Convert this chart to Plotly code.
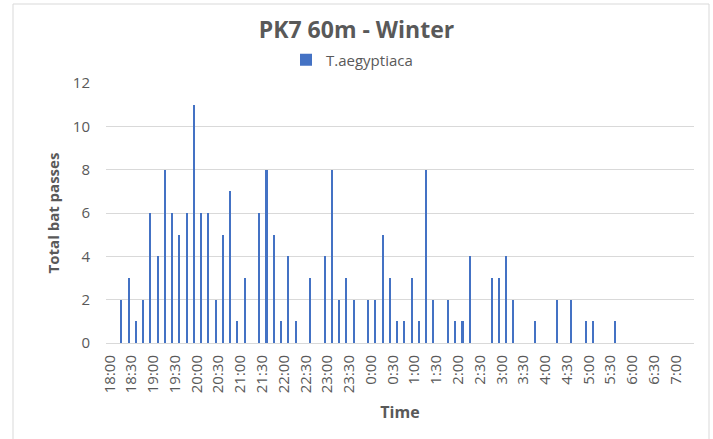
import plotly.graph_objects as go

# 10-minute bins from 18:00 to 7:20
times = []
h, m = 18, 0
for _ in range(81):
    times.append(f"{h}:{m:02d}")
    m += 10
    if m == 60:
        m = 0
        h = (h + 1) % 24

passes = [0, 0, 2, 3, 1, 2, 6, 4, 8, 6, 5, 6, 11, 6, 6, 2, 5, 7, 1, 3,
          0, 6, 8, 5, 1, 4, 1, 0, 3, 0, 4, 8, 2, 3, 2, 0, 2, 2, 5, 3,
          1, 1, 3, 1, 8, 2, 0, 2, 1, 1, 4, 0, 0, 3, 3, 4, 2, 0, 0, 1,
          0, 0, 2, 0, 2, 0, 1, 1, 0, 0, 1, 0, 0, 0, 0, 0, 0, 0, 0, 0, 0]

tick_labels = times[:79:3]

series_name = "T.aegyptiaca"
title = "PK7 60m - Winter"

GRAY = "#595959"
GRID = "#d9d9d9"
FONT = "Open Sans, Liberation Sans, sans-serif"

fig = go.Figure()
fig.add_trace(go.Bar(
    x=times, y=passes, name=series_name,
    marker=dict(color="#4472C4", line=dict(width=0)),
    width=0.28, offset=-0.53,
))

fig.update_layout(
    width=713, height=439,
    margin=dict(l=106, r=19, t=83, b=96, autoexpand=False),
    paper_bgcolor="white", plot_bgcolor="white",
    font=dict(family=FONT, color=GRAY, size=15),
    title=dict(text=f"<b>{title}</b>", x=0.5, xref="container", xanchor="center",
               y=1 - 30 / 439, yref="container", yanchor="middle",
               font=dict(size=23, color=GRAY, family=FONT)),
    showlegend=True,
    legend=dict(orientation="h", x=(286 - 106) / 588, xanchor="left",
                y=(343 - 60) / 260, yanchor="middle",
                font=dict(size=15, color=GRAY), itemwidth=30,
                bgcolor="rgba(0,0,0,0)"),
    bargap=0,
)
fig.update_xaxes(
    type="category", range=[-0.5, 80.5], automargin=False,
    tickmode="array", tickvals=tick_labels, ticktext=tick_labels,
    tickangle=-90, tickfont=dict(size=15, color=GRAY),
    showgrid=False, showline=True, linecolor=GRID, linewidth=1,
    ticks="", ticklabelstandoff=5,
    title=dict(text="<b>Time</b>", font=dict(size=16, color=GRAY), standoff=14),
)
fig.update_yaxes(
    range=[0, 12], dtick=2, showgrid=True, gridcolor=GRID, gridwidth=1,
    zeroline=False, showline=False, automargin=False,
    tickfont=dict(size=15, color=GRAY), ticklabelstandoff=15,
    title=dict(text="<b>Total bat passes</b>", font=dict(size=15, color=GRAY), standoff=9),
)

fig.add_shape(type="rect", xref="paper", yref="paper",
              x0=(13 - 106) / 588, x1=(709 - 106) / 588,
              y0=(343 - 4) / 260, y1=(343 - 450) / 260,
              line=dict(color=GRID, width=1), fillcolor="rgba(0,0,0,0)", layer="below")

fig.write_html("out.html", config={"displayModeBar": False},
               post_script="document.body.style.margin='0px';document.body.style.overflow='hidden';")
